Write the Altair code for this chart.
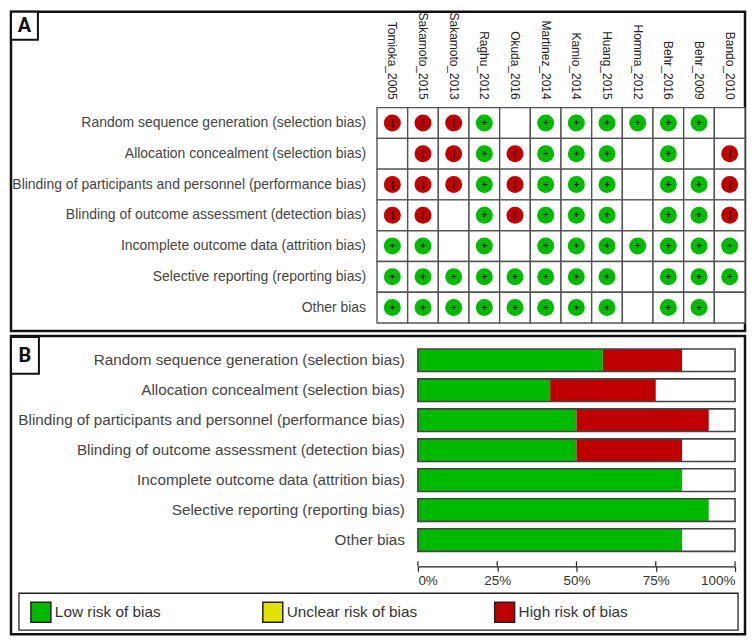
import altair as alt
import pandas as pd

studies = ["Tomioka_2005", "Sakamoto_2015", "Sakamoto_2013", "Raghu_2012", "Okuda_2016", "Martinez_2014",
           "Kamio_2014", "Huang_2015", "Homma_2012", "Behr_2016", "Behr_2009", "Bando_2010"]
domains = ["Random sequence generation (selection bias)",
           "Allocation concealment (selection bias)",
           "Blinding of participants and personnel (performance bias)",
           "Blinding of outcome assessment (detection bias)",
           "Incomplete outcome data (attrition bias)",
           "Selective reporting (reporting bias)",
           "Other bias"]
# L = low, H = high, _ = not judged
matrix = ["HHHL_LLLLLL_",
          "_HHLHLLL_L_H",
          "HHHLHLLL_LLH",
          "HH_LHLLL_LLH",
          "LL_L_LLLLLLL",
          "LLLLLLLL_LLL",
          "LLLLLLLL_LL_"]
low_pct = [58.3, 41.7, 50.0, 50.0, 83.3, 91.7, 83.3]
high_pct = [25.0, 33.3, 41.7, 33.3, 0, 0, 0]
levels = ["Low risk of bias", "Unclear risk of bias", "High risk of bias"]
level_colors = ["#00BA00", "#E2E200", "#BE0000"]
ticks = [0, 25, 50, 75, 100]

font = "Liberation Sans"
name = {"L": levels[0], "H": levels[2]}
sign = {"L": "+", "H": "|"}

cells = pd.DataFrame([{"study": s, "domain": d} for d in domains for s in studies])
judged = pd.DataFrame([
    {"study": s, "domain": d, "risk": name[c], "sign": sign[c]}
    for d, row in zip(domains, matrix) for s, c in zip(studies, row) if c != "_"
])
one = pd.DataFrame({"a": [0]})

W, HA, HB = 736, 320, 299
xA = alt.Scale(domain=studies, range=[367, 736], paddingInner=0, paddingOuter=0)
yA = alt.Scale(domain=domains, range=[96, 312], paddingInner=0, paddingOuter=0)
X = alt.X("study:N", scale=xA, axis=None, sort=studies)
Y = alt.Y("domain:N", scale=yA, axis=None, sort=domains)
colorA = alt.Color("risk:N", scale=alt.Scale(domain=levels, range=level_colors), legend=None)


def tag(letter, x2, y1, y2, ytext):
    box = alt.Chart(one).mark_rect(fill="white", stroke="#111", strokeWidth=2).encode(
        x=alt.value(0), x2=alt.value(x2), y=alt.value(y1), y2=alt.value(y2))
    txt = alt.Chart(one).mark_text(text=letter, font="Roboto", fontWeight="bold", fontSize=20,
                                   color="#111", align="center", baseline="middle").encode(
        x=alt.value(x2 / 2), y=alt.value(ytext))
    return box + txt


grid = alt.Chart(cells).mark_rect(fill="white", stroke="#555555", strokeWidth=1.4).encode(x=X, y=Y)
dots = alt.Chart(judged).mark_point(filled=True, opacity=1, size=290, shape="circle").encode(x=X, y=Y, color=colorA)
marks = alt.Chart(judged).mark_text(font=font, fontWeight="bold", fontSize=10, color="#111").encode(
    x=X, y=Y, text="sign:N")
col_labels = alt.Chart(pd.DataFrame({"study": studies})).mark_text(
    font=font, fontSize=12, angle=90, align="right", baseline="middle", color="#222").encode(
    x=X, y=alt.value(88), text="study:N")
row_labels = alt.Chart(pd.DataFrame({"domain": domains})).mark_text(
    font=font, fontSize=14, align="right", baseline="middle", color="#444").encode(
    y=Y, x=alt.value(356), text="domain:N")
panel_a = alt.layer(tag("A", 27, 0, 28, 14), row_labels, col_labels, grid, dots, marks).properties(width=W, height=HA)

# Panel B
long_rows = []
for d, lo, hi in zip(domains, low_pct, high_pct):
    long_rows.append({"domain": d, "risk": levels[0], "pct": lo, "ord": 0})
    if hi:
        long_rows.append({"domain": d, "risk": levels[2], "pct": hi, "ord": 1})
long = pd.DataFrame(long_rows)
whole = pd.DataFrame({"domain": domains, "start": [0] * 7, "end": [100] * 7})

xB = alt.Scale(domain=[0, 100], range=[408, 726], nice=False)
yB = alt.Scale(domain=domains, range=[13, 216], paddingInner=0.245, paddingOuter=0)
YB = alt.Y("domain:N", scale=yB, axis=None, sort=domains)
axisB = alt.Axis(values=ticks, labelExpr="datum.value + '%'", title=None, grid=False, offset=-68,
                 tickSize=5, tickColor="#222", domainColor="#222", domainWidth=1.2, tickWidth=1.2,
                 labelFont=font, labelFontSize=13.5, labelColor="#333", labelFlush=True, labelPadding=2)
colorB = alt.Color("risk:N", scale=alt.Scale(domain=levels, range=level_colors),
                   legend=alt.Legend(orient="none", legendX=19, legendY=266, direction="horizontal",
                                     columns=3, gridAlign="all", columnPadding=74.5, title=None,
                                     symbolType="square", symbolSize=400, symbolStrokeColor="#222",
                                     symbolStrokeWidth=1.5, symbolOpacity=1, labelFont=font, labelFontSize=15.4,
                                     labelColor="#333", labelOffset=3, padding=0, labelLimit=300))

bg = alt.Chart(whole).mark_bar(fill="white").encode(
    x=alt.X("start:Q", scale=xB, axis=axisB), x2="end:Q", y=YB)
bars = alt.Chart(long).mark_bar(opacity=1).encode(
    x=alt.X("pct:Q", stack="zero", scale=xB, axis=axisB), y=YB, color=colorB, order="ord:Q")
outline = alt.Chart(whole).mark_bar(fillOpacity=0, stroke="#444444", strokeWidth=1.6).encode(
    x=alt.X("start:Q", scale=xB, axis=axisB), x2="end:Q", y=YB)
tick_up = alt.Chart(pd.DataFrame({"t": ticks})).mark_rule(color="#222", strokeWidth=1.2).encode(
    x=alt.X("t:Q", scale=xB, axis=axisB), y=alt.value(226), y2=alt.value(231))
row_labels_b = alt.Chart(pd.DataFrame({"domain": domains})).mark_text(
    font=font, fontSize=15.3, align="right", baseline="middle", color="#444").encode(
    y=YB, x=alt.value(395), text="domain:N")
legend_box = alt.Chart(one).mark_rect(fill="white", stroke="#222", strokeWidth=1.3).encode(
    x=alt.value(8), x2=alt.value(729), y=alt.value(258), y2=alt.value(295))
panel_b = alt.layer(legend_box, tag("B", 28, 1, 38, 20), row_labels_b, bg, bars, outline, tick_up).properties(
    width=W, height=HB)

chart = (
    alt.vconcat(panel_a, panel_b, spacing=1)
    .resolve_scale(color="independent", x="independent", y="independent")
    .properties(padding={"left": 0, "top": 0, "right": 0, "bottom": 0}, background="white")
    .configure_view(stroke="#111111", strokeWidth=2.5)
)
chart.save("out.html", embed_options={"renderer": "svg", "actions": False})
